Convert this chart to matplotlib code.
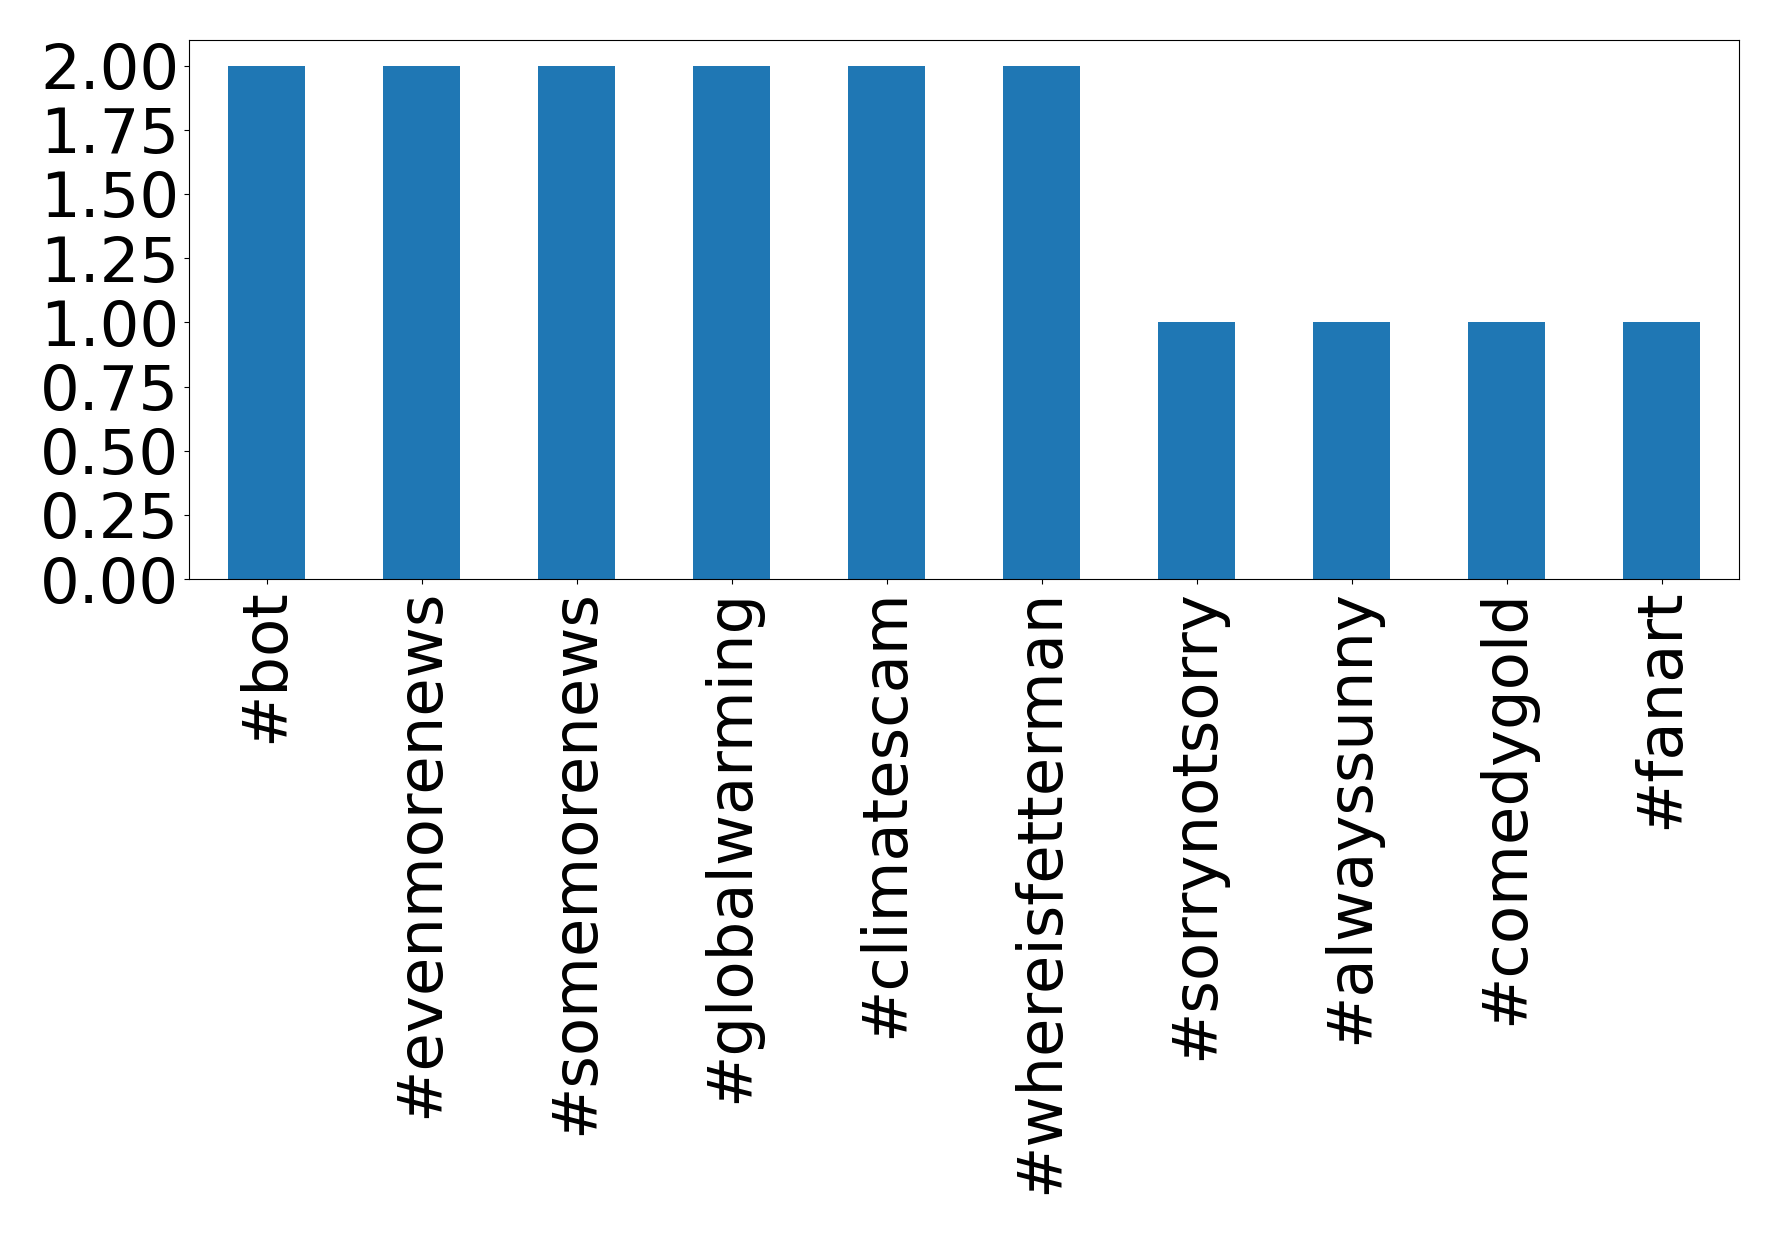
import matplotlib
matplotlib.use("Agg")
import matplotlib.pyplot as plt
import numpy as np

hashtags = ["#bot", "#evenmorenews", "#somemorenews", "#globalwarming", "#climatescam",
            "#whereisfetterman", "#sorrynotsorry", "#alwayssunny", "#comedygold", "#fanart"]
counts = [2, 2, 2, 2, 2, 2, 1, 1, 1, 1]

fig = plt.figure(figsize=(17.78, 12.34), dpi=100)
ax = fig.add_axes([189/1778, 1-579/1234, (1739-189)/1778, (579-40)/1234])
x = np.arange(len(hashtags))
ax.bar(x, counts, width=0.5, color="#1f77b4")
ax.set_xlim(-0.5, len(hashtags) - 0.5)
ax.set_ylim(0, 2.1)
ax.set_yticks(np.arange(0, 2.01, 0.25))
ax.set_yticklabels([f"{v:.2f}" for v in np.arange(0, 2.01, 0.25)])
ax.set_xticks(x)
ax.set_xticklabels(hashtags, rotation=90)
ax.tick_params(axis="both", labelsize=45)
fig.savefig("out.png", dpi=100)
